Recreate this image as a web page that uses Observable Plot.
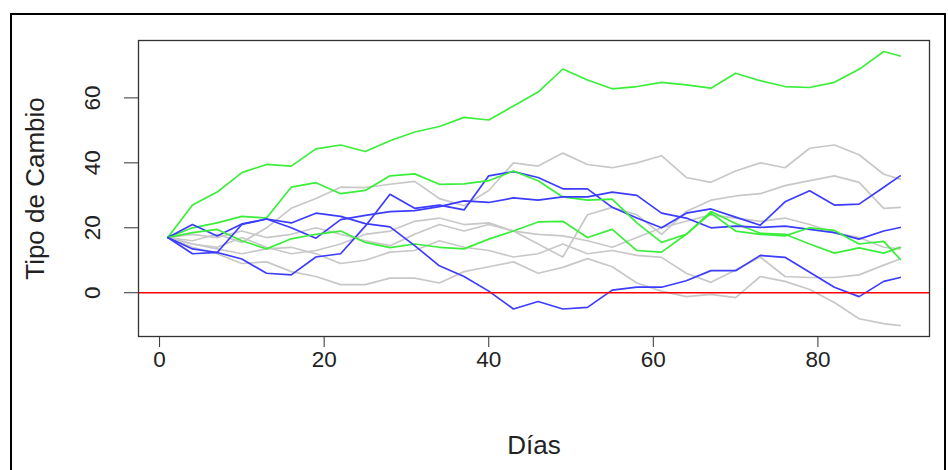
<!DOCTYPE html>
<html><head><meta charset="utf-8">
<script src="https://cdn.jsdelivr.net/npm/d3@7"></script>
<script src="https://cdn.jsdelivr.net/npm/@observablehq/plot@0.6"></script>
<style>
html,body{margin:0;padding:0;background:#fff;}
#wrap{position:relative;width:948px;height:470px;overflow:hidden;background:#fff;}
#border{position:absolute;left:10px;top:13px;width:932px;height:480px;border:2px solid #000;}
#chart{position:absolute;left:0;top:0;}
</style></head><body>
<div id="wrap"><div id="border"></div><div id="chart"></div></div>
<script>
const days = [1,4,7,10,13,16,19,22,25,28,31,34,37,40,43,46,49,52,55,58,61,64,67,70,73,76,79,82,85,88,90];

const gray1 = [17,16,18,15.5,20,26,29,32.5,32.4,33.4,34.3,29,26.8,31.5,40,39,43,39.5,38.5,40,42.2,35.5,34,37.5,40,38.5,44.5,45.5,42.5,36.5,35];
const gray2 = [17,15,14,17,14,12,13,15,18,19,22,23,21,21.5,19,15,11,24,26.3,24,18,25,28.5,29.8,30.5,33,34.5,36,34,26,26.3];
const gray3 = [17,14,12,9,9.5,6.5,5,2.5,2.5,4.5,4.5,3,6.5,8,9.5,6,7.8,10.5,8,3,0.5,-1.2,-0.5,-1.5,5,3.5,1,-3,-8,-9.5,-10.1];
const gray4 = [17,15,13.5,12,13.5,14,12,9,10,12.5,13,16,14,13,11,12,15,12,13,11.5,10.9,6,3.2,7,11,5,4.7,4.7,5.5,8.5,10.4];
const gray5 = [17,18,17,19,17,18,20,18,16,14.5,18,21,19,21,19,18,17.5,16,14,17,20,22,24,23,22,23,21,18.5,17,14,13.5];

const green1 = [17,27,31,37,39.5,39,44.3,45.5,43.5,46.8,49.5,51.2,54,53.2,57.5,61.8,68.9,65.5,62.8,63.5,64.8,64,63,67.6,65.3,63.5,63.2,64.8,68.8,74.3,72.9];
const green2 = [17,20,21.5,23.5,23,32.5,33.9,30.5,31.5,36,36.6,33.4,33.5,34.5,37.5,34.5,29.5,28.5,28.8,21.5,15.5,18,25,21.3,18.3,18,15,12.2,13.8,12.2,14];
const green3 = [17,18.5,19.5,16,13.5,16.6,18,19,15.5,13.9,15,14,13.5,16.5,19,21.8,22,17,19.5,13,12.5,18,24.5,19,18,17.5,20,19.2,15,15.8,10.3];

const blue1 = [17,12,12.4,10.4,6,5.5,11,12,20.5,30.3,26,27,25.5,36,37.3,35.5,32,32,26.3,23,20,24.5,25.8,23.3,20.8,28,31.4,27,27.3,32.5,36];
const blue2 = [17,21,17.5,21.2,22.7,20,16.8,22.5,23.8,25,25.3,26.5,28.3,27.8,29.2,28.5,29.5,29.5,31,30,24.5,23,20,20.5,20.1,20.5,19.5,18.5,16.5,19,20.1];
const blue3 = [17,13.5,12.4,21,22.7,21.5,24.5,23.5,21.3,20.3,14.5,8.3,5,0.5,-5,-2.7,-5,-4.5,0.8,1.7,1.7,3.7,6.8,6.8,11.5,10.9,6.3,1.7,-1.2,3.5,4.7];

const xTicks = [0,20,40,60,80];
const yTicks = [0,20,40,60];
const xLabel = "Días";
const yLabel = "Tipo de Cambio";

const series = [
  {id:"gray1", kind:"gray", values:gray1},
  {id:"gray2", kind:"gray", values:gray2},
  {id:"gray3", kind:"gray", values:gray3},
  {id:"gray4", kind:"gray", values:gray4},
  {id:"gray5", kind:"gray", values:gray5},
  {id:"green1", kind:"green", values:green1},
  {id:"blue1", kind:"blue", values:blue1},
  {id:"green2", kind:"green", values:green2},
  {id:"blue2", kind:"blue", values:blue2},
  {id:"green3", kind:"green", values:green3},
  {id:"blue3", kind:"blue", values:blue3}
];
const palette = {gray:"#c8c8c8", green:"#3aee3a", blue:"#3c3cff"};

const rows = series.flatMap(s => s.values.map((v, i) => ({id:s.id, kind:s.kind, day:days[i], value:v})));

// R-style 4% range extension
const [x0, x1] = d3.extent(days);
const xPad = (x1 - x0) * 0.04;
const [y0, y1] = d3.extent(rows, d => d.value);
const yPad = (y1 - y0) * 0.04;

const chart = Plot.plot({
  width: 948,
  height: 470,
  marginLeft: 138,
  marginRight: 19,
  marginTop: 40,
  marginBottom: 134,
  style: {fontFamily: "'Liberation Sans', Arial, Helvetica, sans-serif", background: "transparent", color: "#222"},
  x: {domain: [x0 - xPad, x1 + xPad]},
  y: {domain: [y0 - yPad, y1 + yPad]},
  color: {type: "identity"},
  marks: [
    Plot.line(rows, {x:"day", y:"value", z:"id", stroke: d => palette[d.kind], strokeWidth:1.7, strokeLinejoin:"round"}),
    Plot.ruleY([0], {stroke:"#ff0000", strokeWidth:1.5}),
    Plot.frame({stroke:"#333", strokeWidth:1.3}),
    Plot.axisX(xTicks, {tickSize:11, tickPadding:4, fontSize:22.5, label:null, stroke:"#333", fill:"#222"}),
    Plot.axisY(yTicks, {tickSize:14, tickFormat: () => "", label:null, stroke:"#333"}),
    Plot.text(yTicks, {y: d => d, text: d => String(d), frameAnchor:"left", dx:-46, rotate:-90, fontSize:22.5, textAnchor:"middle", lineAnchor:"middle", fill:"#222"}),
    Plot.text([xLabel], {frameAnchor:"bottom", dy:109, fontSize:26, textAnchor:"middle", lineAnchor:"middle", fill:"#222"}),
    Plot.text([yLabel], {frameAnchor:"left", dx:-103, rotate:-90, fontSize:26, textAnchor:"middle", lineAnchor:"middle", fill:"#222"})
  ]
});
document.getElementById("chart").appendChild(chart);
</script>
</body></html>
